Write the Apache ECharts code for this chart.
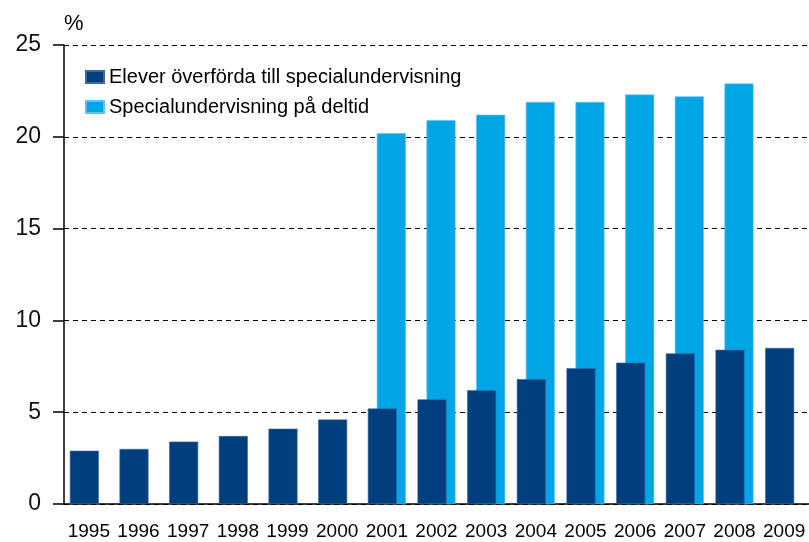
<!DOCTYPE html>
<html>
<head>
<meta charset="utf-8">
<script src="https://cdn.jsdelivr.net/npm/echarts@6/dist/echarts.min.js"></script>
<style>html,body{margin:0;padding:0;background:#fff;}#c{width:809px;height:542px;}</style>
</head>
<body>
<div id="c"></div>
<script>
const years = ['1995','1996','1997','1998','1999','2000','2001','2002','2003','2004','2005','2006','2007','2008','2009'];
const overforda = [2.9, 3.0, 3.4, 3.7, 4.1, 4.6, 5.2, 5.7, 6.2, 6.8, 7.4, 7.7, 8.2, 8.4, 8.5];
const deltid = [null, null, null, null, null, null, 20.2, 20.9, 21.2, 21.9, 21.9, 22.3, 22.2, 22.9, null];
const yTicks = [0, 5, 10, 15, 20, 25];
const seriesNames = ['Elever överförda till specialundervisning', 'Specialundervisning på deltid'];

const font = 'Liberation Sans, Arial, sans-serif';
const chart = echarts.init(document.getElementById('c'), null, {renderer: 'canvas'});
chart.setOption({
  backgroundColor: '#ffffff',
  animation: false,
  title: {
    text: '%', left: 64, top: 13, padding: 0,
    textStyle: {fontFamily: font, fontSize: 22, fontWeight: 'normal', color: '#000'}
  },
  legend: {
    orient: 'vertical', left: 85, top: 67, padding: 0,
    itemWidth: 18, itemHeight: 12, itemGap: 10, itemTextGap: 4,
    icon: 'rect',
    data: seriesNames,
    textStyle: {fontFamily: font, fontSize: 20, color: '#000', lineHeight: 20}
  },
  grid: {left: 64, right: -3, top: 45, bottom: 38, containLabel: false},
  xAxis: {
    type: 'category', data: years,
    axisLine: {lineStyle: {color: '#000', width: 1.5}},
    axisTick: {alignWithLabel: true, interval: 0, length: 12, lineStyle: {color: '#000', width: 1.5}},
    axisLabel: {interval: 0, hideOverlap: false, fontFamily: font, fontSize: 19, color: '#000', margin: 18}
  },
  yAxis: {
    type: 'value', min: yTicks[0], max: yTicks[yTicks.length - 1], interval: 5,
    axisLine: {show: true, lineStyle: {color: '#000', width: 1.5}},
    axisTick: {show: true, inside: false, length: 11, lineStyle: {color: '#000', width: 1.5}},
    axisLabel: {fontFamily: font, fontSize: 23, color: '#111', margin: 23},
    splitLine: {show: true, lineStyle: {color: '#000', type: [5, 4], width: 1}}
  },
  series: [
    {
      name: seriesNames[0], type: 'bar', data: overforda, z: 3,
      barWidth: 29, barGap: '-69%',
      itemStyle: {color: '#003e7e', borderColor: '#3a6aa0', borderWidth: 0.6}
    },
    {
      name: seriesNames[1], type: 'bar', data: deltid, z: 2,
      barWidth: 29, barGap: '-69%',
      itemStyle: {color: '#00a5e6', borderColor: '#5cc4ee', borderWidth: 0.6}
    }
  ]
});
</script>
</body>
</html>
